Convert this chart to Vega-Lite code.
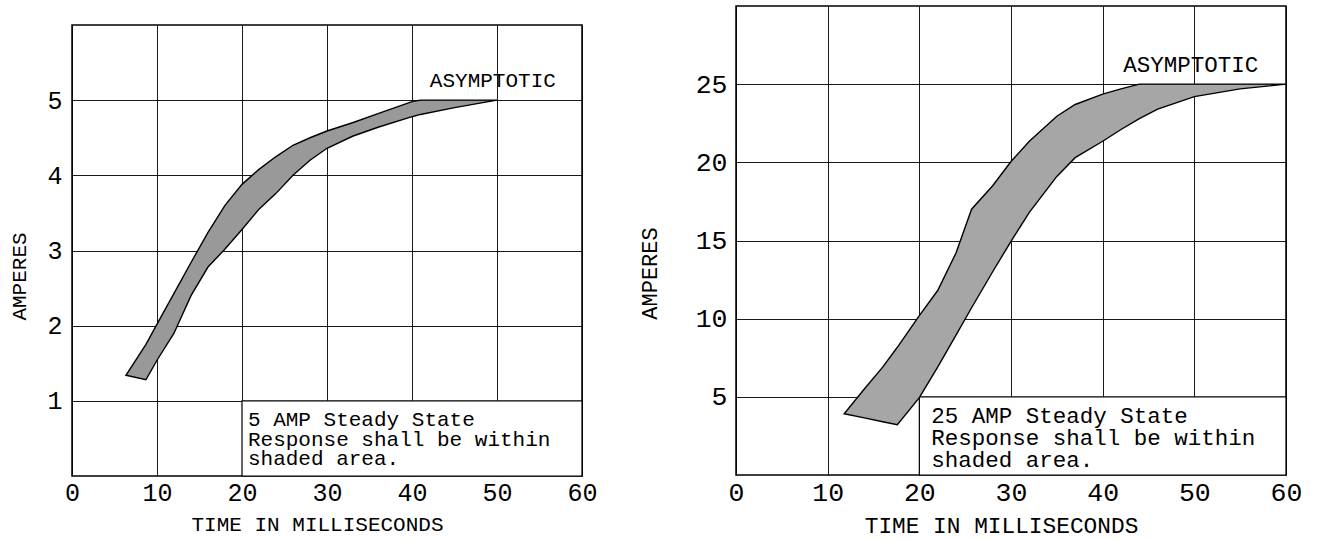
{
"$schema":"https://vega.github.io/schema/vega-lite/v6.json",
"background":"white",
"padding":{"left":7,"top":5,"right":5,"bottom":5},
"spacing":39,
"config":{
 "view":{"stroke":"#000","strokeWidth":1.5},
 "font":"Liberation Mono",
 "axis":{"grid":true,"gridColor":"#000","gridWidth":1,"gridOpacity":0.9,"ticks":false,"domain":false,"labelColor":"#000","titleColor":"#000","labelFont":"Liberation Mono","titleFont":"Liberation Mono","titleFontWeight":"normal","labelFlush":false,"labelOverlap":false,"format":"d"}
},
"hconcat":[
{
 "spacing":5,
 "vconcat":[
 {"width":510,"height":13,"data":{"values":[]},"mark":"point","view":{"stroke":null}},
 {
 "width":510,"height":451,
 "layer":[
  {"data":{"values":[{"x1":20,"x2":60,"y1":0,"y2":1}]},
   "mark":{"type":"rect","fill":"white","stroke":"#000","strokeWidth":1.2},
   "encoding":{
    "x":{"field":"x1","type":"quantitative","scale":{"domain":[0,60],"nice":false},
         "axis":{"values":[0,10,20,30,40,50,60],"format":"d","title":"TIME IN MILLISECONDS","labelFontSize":25,"labelBaseline":"alphabetic","labelPadding":24,"titleFontSize":21,"titleX":245,"titleY":54,"titleBaseline":"alphabetic","titleAlign":"center"}},
    "x2":{"field":"x2"},
    "y":{"field":"y1","type":"quantitative","scale":{"domain":[0,6],"nice":false},
         "axis":{"values":[1,2,3,4,5],"format":"d","title":"AMPERES","labelFontSize":25,"labelPadding":10,"titleFontSize":21,"titleX":-47,"titleY":251,"titleAngle":-90,"titleAlign":"center","titleBaseline":"alphabetic"}},
    "y2":{"field":"y2"}}},
  {"data":{"values":[
    {"t":6.35,"lo":1.34,"hi":1.34},
    {"t":8.7,"lo":1.28,"hi":1.75},
    {"t":10,"lo":1.54,"hi":2.02},
    {"t":12,"lo":1.9,"hi":2.43},
    {"t":14,"lo":2.4,"hi":2.84},
    {"t":16,"lo":2.78,"hi":3.24},
    {"t":18,"lo":3.02,"hi":3.6},
    {"t":20,"lo":3.28,"hi":3.88},
    {"t":22,"lo":3.55,"hi":4.08},
    {"t":24,"lo":3.76,"hi":4.25},
    {"t":26,"lo":4.0,"hi":4.4},
    {"t":28,"lo":4.2,"hi":4.5},
    {"t":30,"lo":4.36,"hi":4.59},
    {"t":33,"lo":4.52,"hi":4.7},
    {"t":36,"lo":4.64,"hi":4.82},
    {"t":40,"lo":4.78,"hi":4.98},
    {"t":41,"lo":4.81,"hi":5.0},
    {"t":45,"lo":4.9,"hi":5.0},
    {"t":50,"lo":5.0,"hi":5.0}]},
   "mark":{"type":"area","fill":"#999999","stroke":"#000","strokeWidth":1.4},
   "encoding":{
    "x":{"field":"t","type":"quantitative","scale":{"domain":[0,60],"nice":false}},
    "y":{"field":"lo","type":"quantitative","scale":{"domain":[0,6],"nice":false}},
    "y2":{"field":"hi"}}},
  {"data":{"values":[
    {"t":42.1,"a":5.18,"label":"ASYMPTOTIC"},
    {"t":20.7,"a":0.66,"label":"5 AMP Steady State\nResponse shall be within\nshaded area."}]},
   "mark":{"type":"text","align":"left","baseline":"alphabetic","fontSize":21,"lineBreak":"\n","lineHeight":19.5,"font":"Liberation Mono","color":"#000"},
   "encoding":{
    "x":{"field":"t","type":"quantitative","scale":{"domain":[0,60],"nice":false}},
    "y":{"field":"a","type":"quantitative","scale":{"domain":[0,6],"nice":false}},
    "text":{"field":"label"}}}
 ]
 }
 ]
},
{
 "width":550,"height":469,
 "layer":[
  {"data":{"values":[{"x1":20,"x2":60,"y1":0,"y2":5}]},
   "mark":{"type":"rect","fill":"white","stroke":"#000","strokeWidth":1.2},
   "encoding":{
    "x":{"field":"x1","type":"quantitative","scale":{"domain":[0,60],"nice":false},
         "axis":{"values":[0,10,20,30,40,50,60],"format":"d","title":"TIME IN MILLISECONDS","labelFontSize":26.5,"labelBaseline":"alphabetic","labelPadding":25,"titleFontSize":22.8,"titleX":265,"titleY":57,"titleBaseline":"alphabetic","titleAlign":"center"}},
    "x2":{"field":"x2"},
    "y":{"field":"y1","type":"quantitative","scale":{"domain":[0,30],"nice":false},
         "axis":{"values":[5,10,15,20,25],"format":"d","title":"AMPERES","labelFontSize":26.5,"labelPadding":9,"titleFontSize":22,"titleX":-80,"titleY":267,"titleAngle":-90,"titleAlign":"center","titleBaseline":"alphabetic"}},
    "y2":{"field":"y2"}}},
  {"data":{"values":[
    {"t":11.8,"lo":3.92,"hi":3.92},
    {"t":14,"lo":3.65,"hi":5.5},
    {"t":16,"lo":3.41,"hi":6.9},
    {"t":17.6,"lo":3.22,"hi":8.17},
    {"t":20,"lo":4.95,"hi":10.2},
    {"t":22,"lo":6.9,"hi":11.8},
    {"t":24,"lo":8.95,"hi":14.2},
    {"t":25.7,"lo":10.7,"hi":17.0},
    {"t":28,"lo":13.0,"hi":18.5},
    {"t":30,"lo":14.95,"hi":20.05},
    {"t":32,"lo":16.8,"hi":21.35},
    {"t":35,"lo":19.1,"hi":22.95},
    {"t":37,"lo":20.3,"hi":23.7},
    {"t":40,"lo":21.35,"hi":24.36},
    {"t":42,"lo":22.1,"hi":24.7},
    {"t":44,"lo":22.8,"hi":25.0},
    {"t":46,"lo":23.4,"hi":25.0},
    {"t":50,"lo":24.2,"hi":25.0},
    {"t":55,"lo":24.7,"hi":25.0},
    {"t":60,"lo":25.0,"hi":25.0}]},
   "mark":{"type":"area","fill":"#a6a6a6","stroke":"#000","strokeWidth":1.4},
   "encoding":{
    "x":{"field":"t","type":"quantitative","scale":{"domain":[0,60],"nice":false}},
    "y":{"field":"lo","type":"quantitative","scale":{"domain":[0,30],"nice":false}},
    "y2":{"field":"hi"}}},
  {"data":{"values":[
    {"t":42.25,"a":25.8,"label":"ASYMPTOTIC"},
    {"t":21.3,"a":3.35,"label":"25 AMP Steady State\nResponse shall be within\nshaded area."}]},
   "mark":{"type":"text","align":"left","baseline":"alphabetic","fontSize":22.5,"lineBreak":"\n","lineHeight":22,"font":"Liberation Mono","color":"#000"},
   "encoding":{
    "x":{"field":"t","type":"quantitative","scale":{"domain":[0,60],"nice":false}},
    "y":{"field":"a","type":"quantitative","scale":{"domain":[0,30],"nice":false}},
    "text":{"field":"label"}}}
 ]
}
]
}
